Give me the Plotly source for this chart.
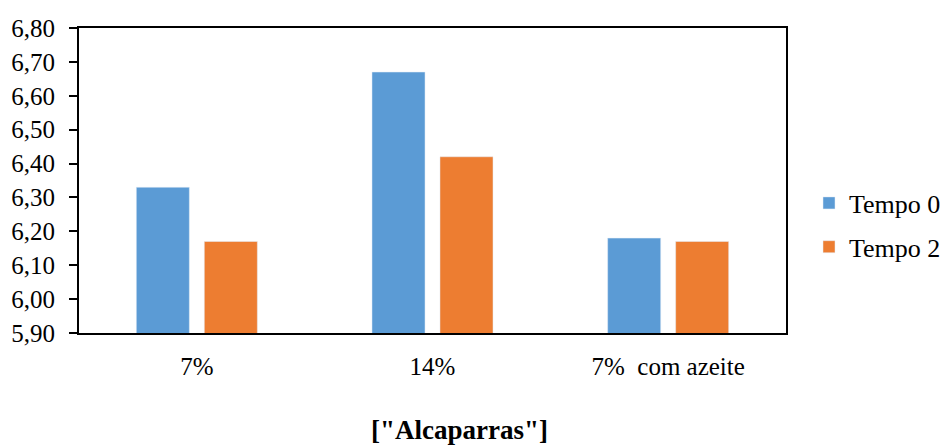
import plotly.graph_objects as go

categories = ["7%", "14%", "7%  com azeite"]
tempo0 = [6.33, 6.67, 6.18]
tempo2 = [6.17, 6.42, 6.17]
y_ticks = [5.90, 6.00, 6.10, 6.20, 6.30, 6.40, 6.50, 6.60, 6.70, 6.80]
y_labels = [f"{v:.2f}".replace(".", ",") for v in y_ticks]

FONT = "Liberation Serif, Times New Roman, serif"
L, R, T, B = 79, 158, 28, 113
PW = 944 - L - R
PH = 446 - T - B

fig = go.Figure()
fig.add_trace(go.Bar(x=categories, y=tempo0, name="Tempo 0",
                     marker_color="#5B9BD5", legendgroup="a"))
fig.add_trace(go.Bar(x=categories, y=tempo2, name="Tempo 2",
                     marker_color="#ED7D31", legendgroup="b"))

fig.update_layout(
    width=944, height=446,
    margin=dict(l=L, r=R, t=T, b=B, autoexpand=False),
    plot_bgcolor="white", paper_bgcolor="white",
    font=dict(family=FONT, size=24, color="black"),
    bargap=0.423, bargroupgap=0.22,
    legend=dict(x=(809 - L) / PW, xanchor="left",
                y=(333 - 225) / PH, yanchor="middle",
                traceorder="grouped", tracegroupgap=7,
                bgcolor="rgba(0,0,0,0)",
                font=dict(size=26), itemwidth=30),
    annotations=[dict(text='<b>["Alcaparras"]</b>', x=(460 - L) / PW,
                      xref="paper", y=-97 / PH, yref="paper",
                      showarrow=False, font=dict(size=27), yanchor="middle")],
)

fig.update_xaxes(showline=True, linecolor="black", linewidth=2, mirror=True,
                 ticks="", automargin=False, ticklabelstandoff=10,
                 tickfont=dict(size=25))
fig.update_yaxes(range=[5.90, 6.80], tickvals=y_ticks, ticktext=y_labels,
                 showline=True, linecolor="black", linewidth=2, mirror=True,
                 ticks="outside", ticklen=8, tickwidth=2, tickcolor="black",
                 showgrid=False, zeroline=False, automargin=False,
                 tickfont=dict(size=25), ticklabelstandoff=9)

# page body has an 8px default margin; drop it so the figure sits at 0,0
fig.write_html("out.html", config={"displayModeBar": False},
               post_script="document.body.style.margin='0';")
